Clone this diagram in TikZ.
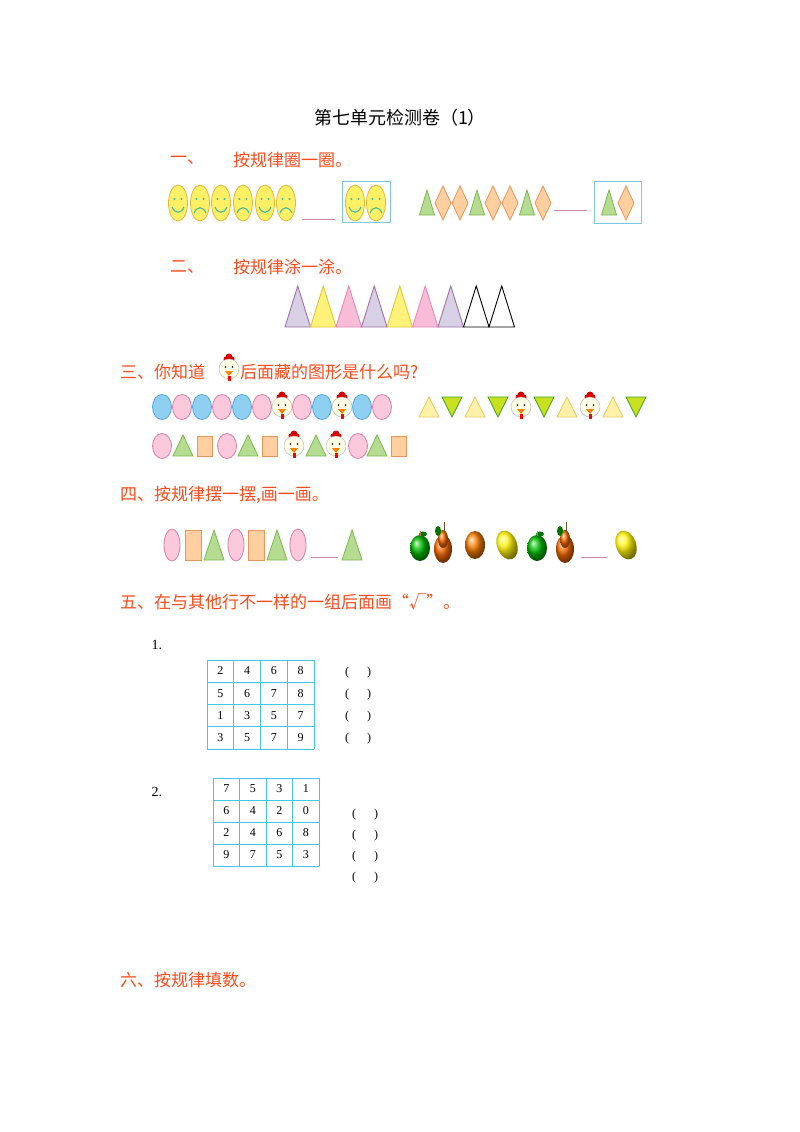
\documentclass[tikz,border=0pt]{standalone}
\usepackage{fontspec}
\setmainfont{Liberation Serif}
\newfontfamily\cjk{Noto Sans CJK SC}
\usetikzlibrary{shapes.geometric}
\definecolor{hred}{HTML}{FF4A1A}
\definecolor{fy}{HTML}{FFF066}\definecolor{fyd}{HTML}{E0B83A}
\definecolor{gf}{HTML}{B5DC90}\definecolor{gd}{HTML}{7DB850}
\definecolor{of}{HTML}{FFCFA0}\definecolor{od}{HTML}{E8945A}
\definecolor{pf}{HTML}{FBC8DC}\definecolor{pd}{HTML}{D77FA6}
\definecolor{bf}{HTML}{8FD0F2}\definecolor{bd}{HTML}{4FA8DC}
\definecolor{lf}{HTML}{D8D0E4}\definecolor{ld}{HTML}{A070A8}
\definecolor{yf}{HTML}{FFF27A}\definecolor{yd}{HTML}{E2C63A}
\definecolor{pkf}{HTML}{F8BCD8}\definecolor{pkd}{HTML}{E68AB4}
\definecolor{ty}{HTML}{FFF2A8}\definecolor{tyd}{HTML}{E8C860}
\definecolor{tg}{HTML}{C8E020}\definecolor{tgd}{HTML}{40A020}
\definecolor{cy}{HTML}{40C8E8}\definecolor{bx}{HTML}{7CC8E4}
\definecolor{ul}{HTML}{D08AA8}\definecolor{fc}{HTML}{3CB8A8}
\tikzset{
 head/.style={font=\cjk\fontsize{17}{17}\selectfont, text=hred, anchor=west, inner sep=0},
 face/.style={fill=fy, draw=fyd, line width=0.8pt},
 fe/.style={fill=fc},
 fm/.style={draw=fc, line width=1.1pt},
 ul/.style={draw=ul, line width=1pt},
 bx/.style={draw=bx, line width=1pt},
 smile/.pic={\draw[face] (0,0) ellipse (9.5pt and 18pt); \fill[fe] (-3.5,-4) circle (1.1pt) (3.5,-4) circle (1.1pt);
   \draw[fm] (-6,4) .. controls (-3,11) and (3,11) .. (6,4);},
 sad/.pic={\draw[face] (0,0) ellipse (9.5pt and 18pt); \fill[fe] (-3.5,-4) circle (1.1pt) (3.5,-4) circle (1.1pt);
   \draw[fm] (-6,10) .. controls (-3,3) and (3,3) .. (6,10);},
 gtri/.pic={\draw[fill=gf,draw=gd,line width=0.8pt] (-7.5,12) -- (0,-13) -- (7.5,12) -- cycle;},
 dia/.pic={\draw[fill=of,draw=od,line width=0.8pt] (0,-17) -- (8,0) -- (0,17) -- (-8,0) -- cycle;},
 ov/.pic={\draw[fill=#1f,draw=#1d,line width=0.8pt] (0,0) ellipse (9.5pt and 12.5pt);},
 tu/.pic={\draw[fill=ty,draw=tyd,line width=0.8pt] (-10,10) -- (0,-10) -- (10,10) -- cycle;},
 td/.pic={\draw[fill=tg,draw=tgd,line width=0.8pt] (-10,-10) -- (10,-10) -- (0,10) -- cycle;},
 st/.pic={\draw[fill=gf,draw=gd,line width=0.8pt] (-10,10) -- (0,-11) -- (10,10) -- cycle;},
 sq/.pic={\draw[fill=of,draw=od,line width=0.8pt] (-7.5,-10) rectangle (7.5,10);},
 chick/.pic={\fill[red!85!black] (0,-12) circle (3.5pt) (-3,-10) circle (2.5pt) (3,-10) circle (2.5pt);
   \draw[fill=white!90!yellow,draw=gray!60] (0,0) ellipse (10pt and 10pt);
   \fill[black] (-3.5,-2) circle (0.9pt) (3.5,-2) circle (0.9pt);
   \fill[orange] (-4,2) -- (4,2) -- (0,7) -- cycle; \fill[red] (-1.5,7) rectangle (1.5,12);},
 bo/.pic={\draw[fill=pf,draw=pd,line width=0.8pt] (0,0) ellipse (8pt and 16pt);},
 bs/.pic={\draw[fill=of,draw=od,line width=0.8pt] (-8,-15) rectangle (8,15);},
 bt/.pic={\draw[fill=gf,draw=gd,line width=0.8pt] (-10,15) -- (0,-15) -- (10,15) -- cycle;},
 apple/.pic={\shade[ball color=green!75!black] (0,3) ellipse (10pt and 13pt); \fill[green!45!black] (3,-11) ellipse (4pt and 2.5pt); \draw[brown] (0,-9)--(0,-14);},
 pear/.pic={\shade[ball color=orange!85!red] (0,4) ellipse (9pt and 14pt); \shade[ball color=orange!85!red] (0,-6) ellipse (5pt and 9pt); \fill[green!45!black] (-5,-14) ellipse (3pt and 5pt); \draw[brown!60!black,line width=1pt] (1,-14)--(1,-23);},
 orng/.pic={\shade[ball color=orange] (0,0) ellipse (10pt and 14pt);},
 lemon/.pic={\shade[ball color=yellow!90!orange,rotate=20] (0,0) ellipse (10pt and 15pt);},
 cell/.style={font=\fontsize{12}{12}\selectfont},
 par/.style={font=\fontsize{12}{12}\selectfont},
}
\begin{document}
\begin{tikzpicture}[x=1pt,y=-1pt]
\useasboundingbox[fill=white] (0,0) rectangle (800,1132);
\node[font=\cjk\fontsize{18}{18}\selectfont] (title) at (400,118) {第七单元检测卷（1）};
\node[head] (h1a) at (170,160) {一、};
\node[head] (h1b) at (233,160) {按规律圈一圈。};
\foreach \x/\p in {178/smile,200/sad,221/smile,243/sad,265/smile,286/sad,355/smile,376/sad} \pic at (\x,203) {\p};
\draw[ul] (302,219) -- (335,219);
\draw[bx] (342,181) rectangle (390,222);
\foreach \x/\p in {427/gtri,443/dia,460/dia,477/gtri,493/dia,510/dia,527/gtri,543/dia,609/gtri,626/dia} \pic at (\x,203) {\p};
\draw[ul] (554,210) -- (587,210);
\draw[bx] (594,181) rectangle (641,223);
\node[head] (h2a) at (170,267) {二、};
\node[head] (h2b) at (233,267) {按规律涂一涂。};
\foreach \i/\f/\d in {0/lf/ld,1/yf/yd,2/pkf/pkd,3/lf/ld,4/yf/yd,5/pkf/pkd,6/lf/ld,7/white/black,8/white/black}
  \draw[fill=\f,draw=\d,line width=0.9pt] ({285+25.5*\i},327) -- ({297.75+25.5*\i},286) -- ({310.5+25.5*\i},327) -- cycle;
\node[head] (h3a) at (120,372) {三、你知道};
\pic at (229,369) {chick};
\node[head] (h3b) at (240,372) {后面藏的图形是什么吗?};
\foreach \x/\c in {162/b,182/p,202/b,222/p,242/b,262/p,302/p,322/b,362/b,382/p} \pic at (\x,407) {ov=\c};
\pic at (282,407) {chick}; \pic at (342,407) {chick};
\foreach \x/\p in {429/tu,452/td,475/tu,498/td,521/chick,544/td,567/tu,590/chick,613/tu,636/td} \pic at (\x,407) {\p};
\foreach \x/\p in {183/st,205/sq,248/st,270/sq,294/chick,316/st,336/chick,377/st,399/sq} \pic at (\x,446) {\p};
\foreach \x in {162,227,358} \pic at (\x,446) {ov=p};
\node[head] (h4) at (120,495) {四、按规律摆一摆,画一画。};
\foreach \x/\p in {172/bo,193/bs,214/bt,236/bo,256/bs,277/bt,298/bo,352/bt} \pic at (\x,545) {\p};
\draw[ul] (311,557) -- (338,557);
\foreach \x/\p in {420/apple,443/pear,475/orng,507/lemon,537/apple,565/pear,626/lemon} \pic at (\x,545) {\p};
\draw[ul] (581,557) -- (607,557);
\node[head] (h5) at (120,602) {五、在与其他行不一样的一组后面画“√”。};
\node[anchor=west,font=\fontsize{14}{14}\selectfont] (n1) at (148,645) {1.};
\foreach \i in {0,...,4} {
  \draw[cy,line width=0.8pt] ({207+26.75*\i},660) -- ({207+26.75*\i},749);
  \draw[cy,line width=0.8pt] (207,{660+22.25*\i}) -- (314,{660+22.25*\i});}
\foreach \r/\row in {0/{2,4,6,8},1/{5,6,7,8},2/{1,3,5,7},3/{3,5,7,9}}
 \foreach \v [count=\c from 0] in \row \node[cell] at ({220.4+26.75*\c},{671+22.25*\r}) {\v};
\foreach \y in {673,695,717,739} \node[par] at (358,\y) {(\quad\ \ )};
\node[anchor=west,font=\fontsize{14}{14}\selectfont] (n2) at (148,792) {2.};
\foreach \i in {0,...,4} {
  \draw[cy,line width=0.8pt] ({213+26.5*\i},778) -- ({213+26.5*\i},866);
  \draw[cy,line width=0.8pt] (213,{778+22*\i}) -- (319,{778+22*\i});}
\foreach \r/\row in {0/{7,5,3,1},1/{6,4,2,0},2/{2,4,6,8},3/{9,7,5,3}}
 \foreach \v [count=\c from 0] in \row \node[cell] at ({226.25+26.5*\c},{789+22*\r}) {\v};
\foreach \y in {815,836,857,878} \node[par] at (365,\y) {(\quad\ \ )};
\node[head] (h6) at (120,980) {六、按规律填数。};
\end{tikzpicture}
\end{document}
